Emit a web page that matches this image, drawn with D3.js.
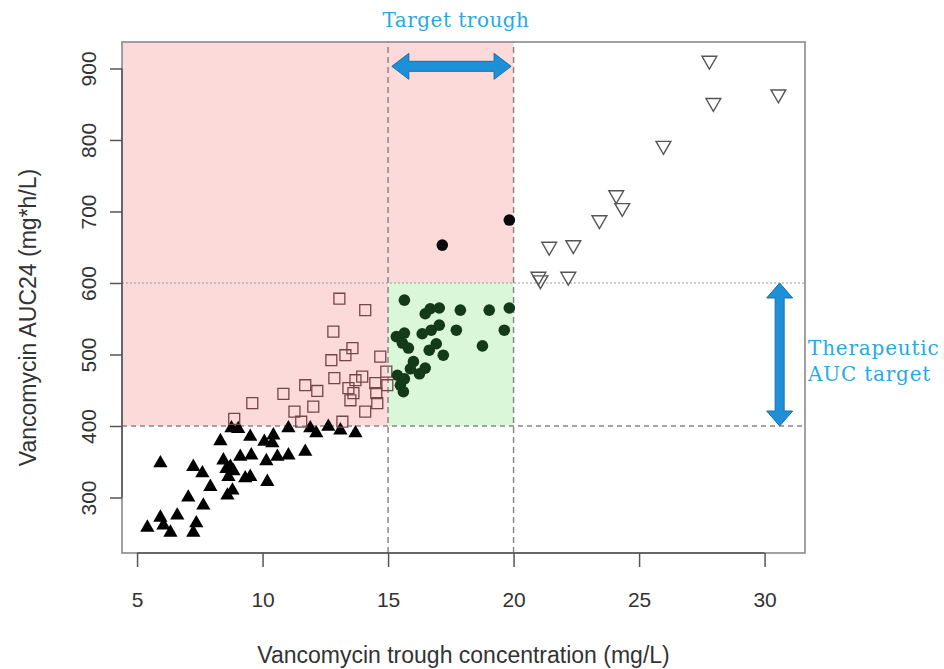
<!DOCTYPE html>
<html lang="en">
<head>
<meta charset="UTF-8">
<title>Vancomycin trough vs AUC24</title>
<script src="https://cdn.jsdelivr.net/npm/d3@7"></script>
<style>
  body { margin: 0; background: #fff; }
  svg { display: block; font-family: "Liberation Sans", Arial, sans-serif; }
</style>
</head>
<body>
<div id="chart"></div>
<script>
// trough concentration (mg/L) and AUC24 (mg*h/L)
const lowTroughX = [5.41, 5.93, 6.05, 6.33, 6.6, 7.24, 7.36, 5.93, 7.04, 7.64, 7.24, 7.6, 7.92, 8.32, 8.44, 8.56, 8.72, 8.64, 8.84, 8.8, 8.6, 8.76, 9.03, 9.11, 9.51, 9.55, 9.31, 9.51, 10.19, 10.15, 10.07, 10.39, 10.43, 10.59, 11.03, 11.03, 11.7, 11.9, 12.14, 12.62, 13.1, 13.7];
const lowTroughY = [258, 272, 261, 251, 275, 251, 264, 348, 300, 289, 343, 334, 315, 379, 352, 340, 343, 329, 337, 310, 303, 397, 396, 357, 385, 359, 327, 329, 322, 351, 378, 376, 387, 357, 359, 397, 364, 397, 390, 399, 394, 390];

const squareX = [13.06, 14.09, 12.82, 13.58, 13.3, 12.74, 14.69, 12.86, 11.7, 12.18, 12.02, 13.42, 13.7, 13.97, 13.62, 13.5, 14.09, 14.49, 14.53, 14.57, 14.97, 13.18, 11.54, 9.59, 10.83, 11.27, 8.87, 14.93];
const squareY = [578, 562, 532, 509, 499, 492, 497, 467, 457, 449, 427, 453, 464, 469, 446, 436, 420, 460, 446, 432, 457, 406, 406, 432, 445, 420, 410, 476];

const targetX = [15.65, 16.48, 16.68, 17.04, 17.88, 19.03, 19.83, 19.63, 17.72, 18.76, 16.36, 16.72, 17.04, 15.33, 15.65, 15.57, 15.81, 16.64, 16.92, 17.2, 16.01, 16.48, 16.25, 15.37, 15.65, 15.89, 15.49, 15.61];
const targetY = [576, 557, 564, 565, 562, 562, 565, 534, 534, 512, 529, 534, 541, 525, 530, 516, 509, 506, 515, 499, 490, 481, 473, 471, 466, 480, 457, 448];

const highAucX = [17.16, 19.83];
const highAucY = [653, 688];

const highTroughX = [27.8, 27.96, 30.55, 25.97, 24.09, 24.33, 23.42, 21.42, 22.38, 20.99, 22.18, 21.07];
const highTroughY = [911, 852, 864, 792, 723, 705, 688, 651, 653, 609, 609, 604];

const xTicks = [5, 10, 15, 20, 25, 30];
const yTicks = [300, 400, 500, 600, 700, 800, 900];
const troughTarget = [15, 20];
const aucTarget = [400, 600];

const width = 944, height = 669;
const box = { left: 122, right: 805, top: 42, bottom: 553 };

const svg = d3.select("#chart").append("svg")
  .attr("width", width)
  .attr("height", height);

const x = d3.scaleLinear().domain([4.4, 31.61]).range([box.left, box.right]);
const y = d3.scaleLinear().domain([222.4, 937]).range([box.bottom, box.top]);

const [xMin, xMax] = x.domain();
const [yMin, yMax] = y.domain();

// shaded zones
const pink = "#fcdada", green = "#dbf7d9";
svg.append("rect")
  .attr("x", x(xMin)).attr("y", y(yMax))
  .attr("width", x(troughTarget[0]) - x(xMin))
  .attr("height", y(aucTarget[0]) - y(yMax))
  .attr("fill", pink);
svg.append("rect")
  .attr("x", x(troughTarget[0])).attr("y", y(yMax))
  .attr("width", x(troughTarget[1]) - x(troughTarget[0]))
  .attr("height", y(aucTarget[1]) - y(yMax))
  .attr("fill", pink);
svg.append("rect")
  .attr("x", x(troughTarget[0])).attr("y", y(aucTarget[1]))
  .attr("width", x(troughTarget[1]) - x(troughTarget[0]))
  .attr("height", y(aucTarget[0]) - y(aucTarget[1]))
  .attr("fill", green);

// reference lines
svg.selectAll(".vline")
  .data(troughTarget)
  .join("line")
  .attr("x1", d => x(d)).attr("x2", d => x(d))
  .attr("y1", y(yMin)).attr("y2", y(yMax))
  .attr("stroke", "#888").attr("stroke-width", 1.5)
  .attr("stroke-dasharray", "6,4");

svg.append("line")
  .attr("x1", x(xMin)).attr("x2", x(xMax))
  .attr("y1", y(aucTarget[0])).attr("y2", y(aucTarget[0]))
  .attr("stroke", "#888").attr("stroke-width", 1.5)
  .attr("stroke-dasharray", "5,4");
svg.append("line")
  .attr("x1", x(xMin)).attr("x2", x(xMax))
  .attr("y1", y(aucTarget[1])).attr("y2", y(aucTarget[1]))
  .attr("stroke", "#999").attr("stroke-width", 1.2)
  .attr("stroke-dasharray", "2,2");

// points
const zip = (xs, ys) => xs.map((v, i) => [v, ys[i]]);

svg.append("g").selectAll("path")
  .data(zip(lowTroughX, lowTroughY))
  .join("path")
  .attr("transform", d => `translate(${x(d[0])},${y(d[1])})`)
  .attr("d", d3.symbol(d3.symbolTriangle, 88))
  .attr("fill", "#000");

svg.append("g").selectAll("path")
  .data(zip(squareX, squareY))
  .join("path")
  .attr("transform", d => `translate(${x(d[0])},${y(d[1])})`)
  .attr("d", d3.symbol(d3.symbolSquare, 120))
  .attr("fill", "none")
  .attr("stroke", "#744646")
  .attr("stroke-width", 1.3);

svg.append("g").selectAll("circle")
  .data(zip(targetX, targetY))
  .join("circle")
  .attr("cx", d => x(d[0])).attr("cy", d => y(d[1]))
  .attr("r", 5.8)
  .attr("fill", "#143a18");

svg.append("g").selectAll("circle")
  .data(zip(highAucX, highAucY))
  .join("circle")
  .attr("cx", d => x(d[0])).attr("cy", d => y(d[1]))
  .attr("r", 5.8)
  .attr("fill", "#0a0a0a");

svg.append("g").selectAll("path")
  .data(zip(highTroughX, highTroughY))
  .join("path")
  .attr("transform", d => `translate(${x(d[0])},${y(d[1])}) rotate(180)`)
  .attr("d", d3.symbol(d3.symbolTriangle, 95))
  .attr("fill", "none")
  .attr("stroke", "#555")
  .attr("stroke-width", 1.4);

// box
svg.append("rect")
  .attr("x", box.left).attr("y", box.top)
  .attr("width", box.right - box.left)
  .attr("height", box.bottom - box.top)
  .attr("fill", "none")
  .attr("stroke", "#8a8a8a")
  .attr("stroke-width", 1.6);

// axes
const xAxis = svg.append("g")
  .attr("transform", `translate(0,${box.bottom})`)
  .call(d3.axisBottom(x).tickValues(xTicks).tickSize(14).tickPadding(25));
const yAxis = svg.append("g")
  .attr("transform", `translate(${box.left},0)`)
  .call(d3.axisLeft(y).tickValues(yTicks).tickSize(12));

[xAxis, yAxis].forEach(g => {
  g.select(".domain").remove();
  g.selectAll(".tick line").attr("stroke", "#555").attr("stroke-width", 1.5);
  g.selectAll(".tick text").attr("fill", "#333").style("font-size", "21px");
});
xAxis.append("line")
  .attr("x1", x(xTicks[0])).attr("x2", x(xTicks[xTicks.length - 1]))
  .attr("stroke", "#555").attr("stroke-width", 1.5);
yAxis.append("line")
  .attr("y1", y(yTicks[0])).attr("y2", y(yTicks[yTicks.length - 1]))
  .attr("stroke", "#555").attr("stroke-width", 1.5);
yAxis.selectAll(".tick text")
  .attr("x", 0).attr("y", 0).attr("dy", null)
  .attr("text-anchor", "middle")
  .attr("transform", "translate(-26,0) rotate(-90)");

svg.append("text")
  .attr("x", (box.left + box.right) / 2)
  .attr("y", 663)
  .attr("text-anchor", "middle")
  .attr("fill", "#333")
  .style("font-size", "23px")
  .text("Vancomycin trough concentration (mg/L)");

svg.append("text")
  .attr("transform", `translate(36,${(box.top + box.bottom) / 2 + 20}) rotate(-90)`)
  .attr("text-anchor", "middle")
  .attr("fill", "#333")
  .style("font-size", "23px")
  .text("Vancomycin AUC24 (mg*h/L)");

// double-headed arrows
const arrowBlue = "#1e90d8", arrowEdge = "#1b6ea8";
function doubleArrow(len, shaft, headW, headL) {
  const h = len / 2, s = shaft / 2, w = headW / 2;
  return `M${-h},0 L${-h + headL},${-w} L${-h + headL},${-s} L${h - headL},${-s} L${h - headL},${-w} L${h},0 L${h - headL},${w} L${h - headL},${s} L${-h + headL},${s} L${-h + headL},${w} Z`;
}
const hx0 = x(15.15), hx1 = x(19.9), hy = y(903);
svg.append("path")
  .attr("transform", `translate(${(hx0 + hx1) / 2},${hy})`)
  .attr("d", doubleArrow(hx1 - hx0, 10, 26, 17))
  .attr("fill", arrowBlue).attr("stroke", arrowEdge).attr("stroke-width", 1);

const vy0 = y(aucTarget[1]), vy1 = y(aucTarget[0]), vx = x(30.6);
svg.append("path")
  .attr("transform", `translate(${vx},${(vy0 + vy1) / 2}) rotate(90)`)
  .attr("d", doubleArrow(vy1 - vy0, 9, 26, 15))
  .attr("fill", arrowBlue).attr("stroke", arrowEdge).attr("stroke-width", 1);

// annotations
const noteStyle = g => g.attr("fill", "#29a9e1")
  .style("font-family", "'DejaVu Serif', serif")
  .style("font-size", "20px");

svg.append("text")
  .attr("x", 456).attr("y", 27)
  .attr("text-anchor", "middle")
  .style("letter-spacing", "0.5px")
  .call(noteStyle)
  .text("Target trough");

svg.append("text").attr("x", 808).attr("y", 355).style("letter-spacing", "0.8px").call(noteStyle).text("Therapeutic");
svg.append("text").attr("x", 808).attr("y", 381).style("letter-spacing", "0.8px").call(noteStyle).text("AUC target");
</script>
</body>
</html>
